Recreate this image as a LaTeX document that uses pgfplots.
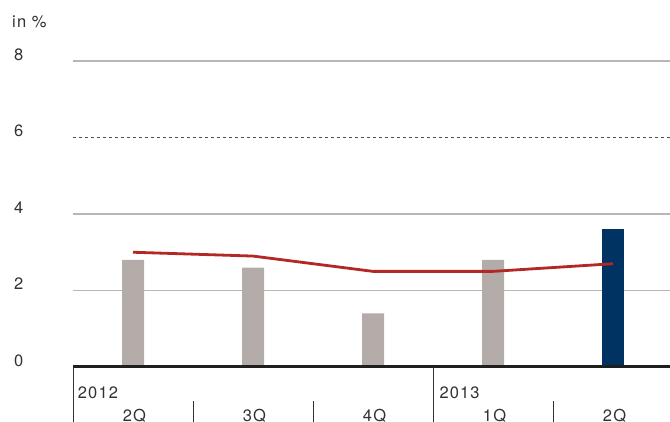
\documentclass[border=0pt]{standalone}
\usepackage{pgfplots}
\pgfplotsset{compat=1.18}
\usepackage{fontspec}
\setmainfont[LetterSpace=7]{TeX Gyre Heros}
\definecolor{bargray}{RGB}{180,172,168}
\definecolor{barblue}{RGB}{0,51,98}
\definecolor{linered}{RGB}{178,40,36}
\definecolor{gridgray}{RGB}{187,182,178}
\definecolor{txt}{RGB}{50,50,50}
\begin{document}
\begin{tikzpicture}[x=1pt,y=1pt,font=\fontsize{16.5}{19}\selectfont]
\useasboundingbox (0,0) rectangle (670,422);
\node[anchor=base west, inner sep=0, text=txt] at (12,394) {in \%};
\begin{axis}[
  at={(73pt,55pt)}, anchor=south west,
  scale only axis, width=597pt, height=306pt,
  xmin=-0.5, xmax=4.475, ymin=0, ymax=8,
  axis line style={draw=none},
  tick style={draw=none},
  ytick={0,2,4,8},
  extra y ticks={6},
  extra y tick style={grid style={dash pattern=on 3pt off 3pt, color=txt!85, line width=1pt}},
  ymajorgrids,
  grid style={gridgray, line width=1.2pt},
  yticklabel style={anchor=base west, inner sep=0pt, xshift=-59pt, yshift=0.5pt, text=txt},
  /pgf/number format/assume math mode=true,
  xtick={0,1,2,3,4},
  xticklabels={2Q,3Q,4Q,1Q,2Q},
  xticklabel style={anchor=base, inner sep=0pt, yshift=-55pt, xshift=1.5pt, text=txt},
  clip=false,
]
\addplot[ybar, bar width=22pt, bar shift=0pt, fill=bargray, draw=none]
  coordinates {(0,2.8) (1,2.6) (2,1.4) (3,2.8)};
\addplot[ybar, bar width=22pt, bar shift=0pt, fill=barblue, draw=none]
  coordinates {(4,3.6)};
\addplot[linered, line width=2.8pt, mark=none]
  coordinates {(0,3.0) (1,2.9) (2,2.5) (3,2.5) (4,2.7)};
\draw[line width=3pt, black!88] (axis cs:-0.5,0) -- (axis cs:4.475,0);
\draw[txt, line width=0.9pt] (axis cs:-0.5,0) -- ++(0pt,-56pt);
\draw[txt, line width=0.9pt] (axis cs:2.5,0) -- ++(0pt,-56pt);
\draw[txt, line width=0.9pt] (axis cs:0.5,0) ++(0pt,-34pt) -- ++(0pt,-22pt);
\draw[txt, line width=0.9pt] (axis cs:1.5,0) ++(0pt,-34pt) -- ++(0pt,-22pt);
\draw[txt, line width=0.9pt] (axis cs:3.5,0) ++(0pt,-34pt) -- ++(0pt,-22pt);
\node[anchor=base west, inner sep=0, text=txt] at ([shift={(4.7pt,-32pt)}]axis cs:-0.5,0) {2012};
\node[anchor=base west, inner sep=0, text=txt] at ([shift={(6.3pt,-32pt)}]axis cs:2.5,0) {2013};
\end{axis}
\end{tikzpicture}
\end{document}
